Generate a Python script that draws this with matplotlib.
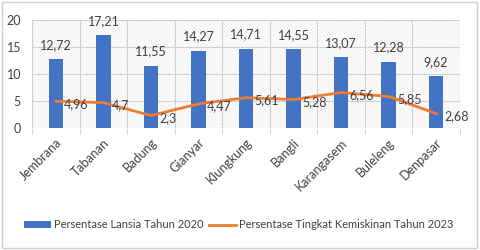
import numpy as np
import matplotlib
matplotlib.use('Agg')
import matplotlib.pyplot as plt
from matplotlib.patches import Rectangle

plt.rcParams['font.family'] = ['Lato', 'DejaVu Sans']
plt.rcParams['hatch.color'] = '#e6e6e6'
plt.rcParams['hatch.linewidth'] = 0.5

REGIONS = ['Jembrana', 'Tabanan', 'Badung', 'Gianyar', 'Klungkung',
           'Bangli', 'Karangasem', 'Buleleng', 'Denpasar']
LANSIA_2020 = [12.72, 17.21, 11.55, 14.27, 14.71, 14.55, 13.07, 12.28, 9.62]
KEMISKINAN_2023 = [4.96, 4.7, 2.3, 4.47, 5.61, 5.28, 6.56, 5.85, 2.68]
Y_TICKS = [0, 5, 10, 15, 20]

BLUE = '#4472C4'
ORANGE = '#ED7D31'
TEXT = '#404040'
FS = 9


def fmt(v):
    return f'{v:g}'.replace('.', ',')


def main():
    fig = plt.figure(figsize=(4.8, 2.5), dpi=100)
    fig.patches.append(Rectangle((0.004, 0.008), 0.99, 0.984, transform=fig.transFigure,
                                 fill=False, edgecolor='#d0d0d0', linewidth=1))
    ax = fig.add_axes([0.067, 0.488, 0.891, 0.432])
    ax.patch.set_hatch('\\' * 9)
    ax.patch.set_edgecolor('#e6e6e6')

    x = np.arange(len(REGIONS))
    bars = ax.bar(x, LANSIA_2020, width=0.3, color=BLUE, zorder=3,
                  label='Persentase Lansia Tahun 2020')
    line, = ax.plot(x, KEMISKINAN_2023, color=ORANGE, linewidth=2, zorder=4,
                    label='Persentase Tingkat Kemiskinan Tahun 2023')

    for xi, v in zip(x, LANSIA_2020):
        ax.annotate(fmt(v), (xi, v), xytext=(0, 6), textcoords='offset points',
                    ha='center', va='bottom', fontsize=FS, color=TEXT)
    for xi, v in zip(x, KEMISKINAN_2023):
        ax.annotate(fmt(v), (xi, v), xytext=(6, -2), textcoords='offset points',
                    ha='left', va='center', fontsize=FS, color=TEXT, zorder=5)

    ax.set_xlim(-0.5, len(REGIONS) - 0.5)
    ax.set_ylim(0, 20)
    ax.set_yticks(Y_TICKS)
    ax.set_xticks(x)
    ax.set_xticklabels(REGIONS, rotation=45, ha='right', rotation_mode='anchor')
    ax.set_xticks(np.arange(-0.5, len(REGIONS)), minor=True)
    ax.tick_params(axis='x', which='major', length=0, pad=6, labelsize=FS, labelcolor=TEXT)
    ax.tick_params(axis='x', which='minor', length=4, color='#d0d0d0')
    ax.tick_params(axis='y', length=0, labelsize=FS, labelcolor=TEXT, pad=8)
    ax.grid(axis='y', color='#d0d0d0', linewidth=0.8, zorder=1)
    ax.grid(axis='x', which='minor', color='#d0d0d0', linewidth=0.8, zorder=1)
    ax.set_axisbelow(True)
    for s in ax.spines.values():
        s.set_visible(False)

    fig.legend(handles=[bars, line], loc='center', bbox_to_anchor=(0.498, 0.1),
               ncol=2, frameon=False, fontsize=8, labelcolor=TEXT,
               handlelength=2.4, handleheight=0.55, columnspacing=0.5, handletextpad=0.3)

    fig.savefig('out.png', dpi=100)


if __name__ == '__main__':
    main()
